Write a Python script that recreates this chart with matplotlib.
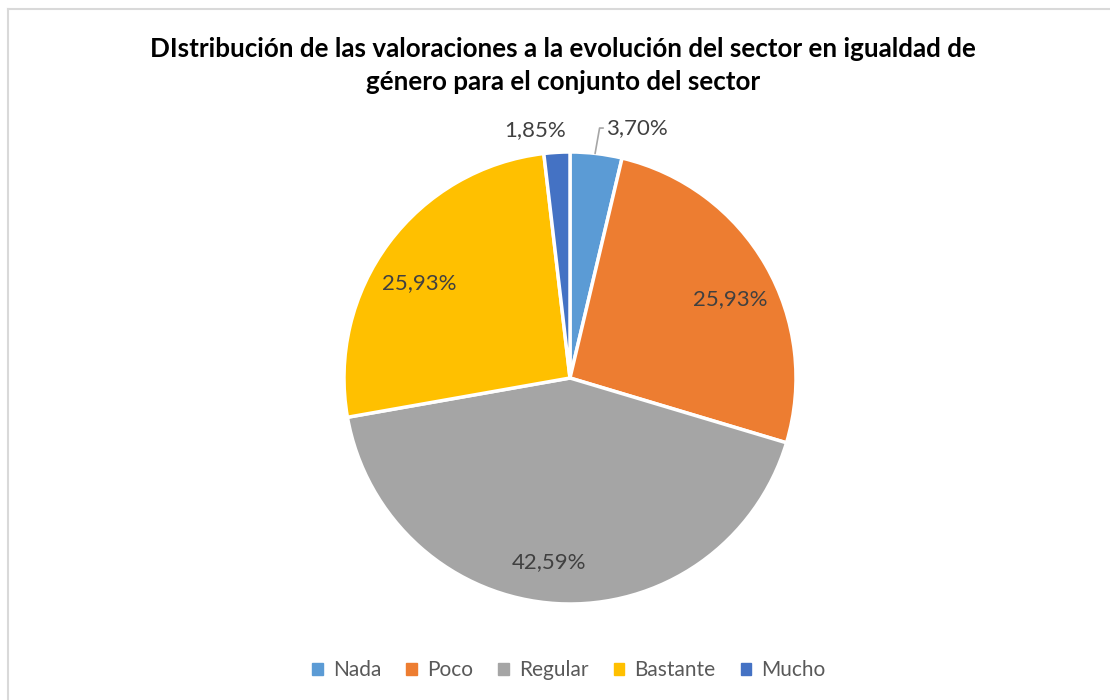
import matplotlib
matplotlib.use("Agg")
import matplotlib.pyplot as plt
from matplotlib.lines import Line2D
import numpy as np

categories = ["Nada", "Poco", "Regular", "Bastante", "Mucho"]
values = [3.70, 25.93, 42.59, 25.93, 1.85]
colors = ["#5B9BD5", "#ED7D31", "#A5A5A5", "#FFC000", "#4472C4"]
title = "DIstribución de las valoraciones a la evolución del sector en igualdad de\ngénero para el conjunto del sector"

W, H = 1110, 700
fig = plt.figure(figsize=(W / 100, H / 100), dpi=100)
fig.patch.set_facecolor("white")

# chart border (top and left visible)
fig.add_artist(Line2D([8 / W, 1.0], [1 - 8.5 / H, 1 - 8.5 / H], color="#D9D9D9", lw=1.5, transform=fig.transFigure))
fig.add_artist(Line2D([8 / W, 8 / W], [0, 1 - 8.5 / H], color="#D9D9D9", lw=1.5, transform=fig.transFigure))

fig.text(563 / W, 1 - 65.5 / H, title, ha="center", va="center", fontsize=18.7,
         fontweight="bold", family="Lato", color="black", linespacing=1.45)

cx, cy, r = 570, 378, 226
ax = fig.add_axes([(cx - r) / W, (H - cy - r) / H, 2 * r / W, 2 * r / H])
wedges, _ = ax.pie(values, colors=colors, startangle=90, counterclock=False,
                   wedgeprops=dict(edgecolor="white", linewidth=2.5))
ax.set_xlim(-1, 1)
ax.set_ylim(-1, 1)
ax.set_aspect("equal")
ax.axis("off")

def fmt(v):
    return f"{v:.2f}%".replace(".", ",")

lab_kw = dict(ha="center", va="center", fontsize=16, family="Lato", color="#404040")
# label placement offsets (in radius units) relative to 0.79*r along the mid-angle
label_shift = {"Poco": (0.024, -0.047), "Regular": (-0.048, -0.026), "Bastante": (-0.035, -0.05)}
for cat, w, v in zip(categories, wedges, values):
    mid = np.deg2rad((w.theta1 + w.theta2) / 2)
    if cat in label_shift:
        dx, dy = label_shift[cat]
        ax.text(0.79 * np.cos(mid) + dx, 0.79 * np.sin(mid) + dy, fmt(v), **lab_kw)

# small slices labelled outside
w0 = wedges[0]
m0 = np.deg2rad((w0.theta1 + w0.theta2) / 2)
ax.annotate(fmt(values[0]), xy=(np.cos(m0) - 0.005, np.sin(m0)),
            xytext=(0.296, 1.106), clip_on=False,
            arrowprops=dict(arrowstyle="-", color="#A6A6A6", lw=1.2,
                            connectionstyle="angle,angleA=0,angleB=80,rad=0",
                            shrinkA=0, shrinkB=0, relpos=(0, 0.5)), **lab_kw)
ax.text(-0.155, 1.097, fmt(values[4]), clip_on=False, **lab_kw)

handles = [plt.Rectangle((0, 0), 1, 1, color=c) for c in colors]
fig.legend(handles, categories, loc="center", bbox_to_anchor=(569 / W, 1 - 670 / H),
           ncol=5, frameon=False, handlelength=0.5, handleheight=0.5,
           handletextpad=0.5, columnspacing=1.2,
           prop=dict(family="Lato", size=15))
for t in fig.legends[0].get_texts():
    t.set_color("#595959")

fig.savefig("out.png", dpi=100, facecolor="white")
